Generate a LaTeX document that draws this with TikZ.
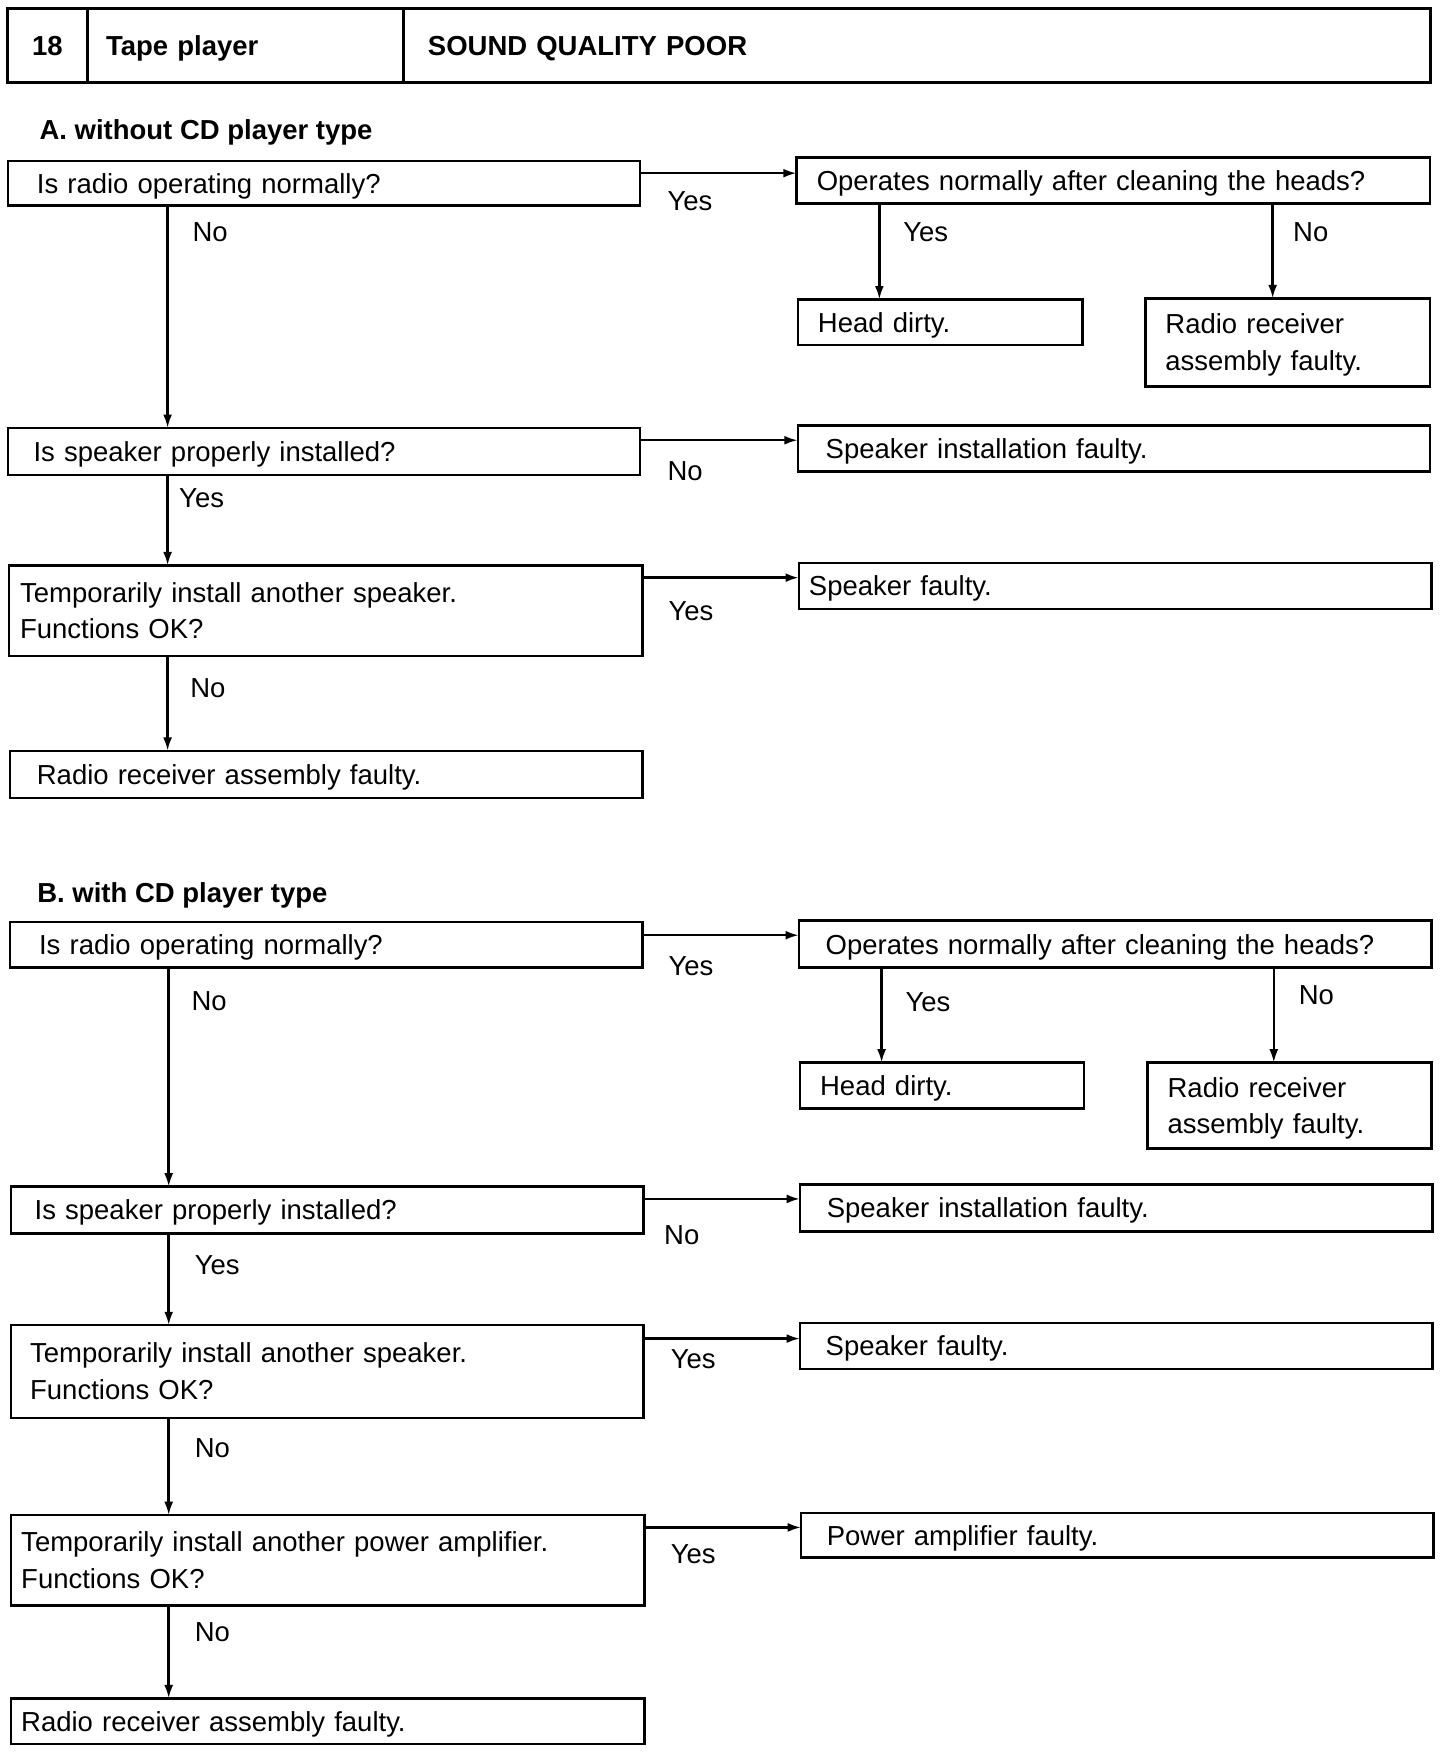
\documentclass[tikz,border=0pt]{standalone}
\usepackage{fontspec}
\setmainfont{Liberation Sans}
\usetikzlibrary{arrows.meta}
\begin{document}
\begin{tikzpicture}[x=0.5pt,y=-0.5pt,
 every node/.style={font=\fontsize{12.3}{16.5}\selectfont},
 bx/.style n args={4}{draw, line width=1.1pt, anchor=north west, align=left, inner ysep=0pt, outer sep=0pt,
   minimum width=#1, minimum height=#2, inner xsep=#3, text width=#4},
 one/.style={text height=8.8pt, text depth=0pt},
 two/.style={text height=8.8pt, text depth=16.5pt},
 hd/.style={draw, line width=1.3pt, anchor=north west, inner ysep=0pt, outer sep=0pt, minimum height=33pt,
   text height=8.8pt, text depth=0pt, font=\fontsize{12.3}{15}\selectfont\bfseries},
 lbl/.style={anchor=west, inner sep=0pt},
 arr/.style={line width=1.1pt, -{Latex[length=6pt,width=4pt]}},
 ttl/.style={anchor=west, inner sep=0pt, text height=8.8pt, text depth=0pt, font=\fontsize{12.3}{15}\selectfont\bfseries}]
\useasboundingbox (0,0) rectangle (1289,1568);

% header
\node[hd, minimum width=35.5pt, inner xsep=0pt, align=center] (h1) at (7,8) {18};
\node[hd, minimum width=141.5pt, inner xsep=8.5pt, text width=124.5pt, align=left] (h2) at (78,8) {Tape player};
\node[hd, minimum width=459.5pt, inner xsep=11pt, text width=437.5pt, align=left] (h3) at (361,8) {SOUND QUALITY POOR};

% ---------------- Section A
\node[ttl] (ta) at (35,116) {A. without CD player type};

\node[bx={283pt}{20pt}{13pt}{257pt}, one] (a1) at (7,144) {Is radio operating normally?};
\node[bx={283.5pt}{20.5pt}{9pt}{265.5pt}, one] (a2) at (713,141) {Operates normally after cleaning the heads?};
\node[bx={127.5pt}{20.5pt}{9pt}{109.5pt}, one] (a3) at (714,268) {Head dirty.};
\node[bx={127.5pt}{39.5pt}{9pt}{109.5pt}, two] (a4) at (1025,267) {Radio receiver\\assembly faulty.};
\node[bx={283pt}{21pt}{11.5pt}{260pt}, one] (a5) at (7,383) {Is speaker properly installed?};
\node[bx={283pt}{20.5pt}{12.5pt}{258pt}, one] (a6) at (714,381) {Speaker installation faulty.};
\node[bx={283.5pt}{40.5pt}{5pt}{273.5pt}, two] (a7) at (8,506) {Temporarily install another speaker.\\Functions OK?};
\node[bx={283pt}{20.5pt}{4.5pt}{274pt}, one] (a8) at (715,504) {Speaker faulty.};
\node[bx={283pt}{21pt}{12pt}{259pt}, one] (a9) at (9,672) {Radio receiver assembly faulty.};

\coordinate (xa) at (150,0);
\coordinate (xa2) at (787,0);
\coordinate (xa4) at (1139,0);
\coordinate (ya12) at (0,155);
\coordinate (ya56) at (0,394);
\coordinate (ya78) at (0,517);

\draw[arr] (a1.east |- ya12) -- (a2.west |- ya12);
\draw[arr] (a1.south -| xa) -- (a5.north -| xa);
\draw[arr] (a2.south -| xa2) -- (a3.north -| xa2);
\draw[arr] (a2.south -| xa4) -- (a4.north -| xa4);
\draw[arr] (a5.east |- ya56) -- (a6.west |- ya56);
\draw[arr] (a5.south -| xa) -- (a7.north -| xa);
\draw[arr] (a7.east |- ya78) -- (a8.west |- ya78);
\draw[arr] (a7.south -| xa) -- (a9.north -| xa);

\node[lbl] (la1) at (597,180) {Yes};
\node[lbl] (la2) at (172,208) {No};
\node[lbl] (la3) at (808,208) {Yes};
\node[lbl] (la4) at (1157,208) {No};
\node[lbl] (la5) at (597,422) {No};
\node[lbl] (la6) at (160,446) {Yes};
\node[lbl] (la7) at (598,547) {Yes};
\node[lbl] (la8) at (170,616) {No};

% ---------------- Section B
\node[ttl] (tb) at (33,799) {B. with CD player type};

\node[bx={283pt}{20.5pt}{13pt}{257pt}, one] (b1) at (9,825) {Is radio operating normally?};
\node[bx={283pt}{21pt}{12pt}{259pt}, one] (b2) at (715,824) {Operates normally after cleaning the heads?};
\node[bx={127pt}{20.5pt}{9pt}{109pt}, one] (b3) at (716,951) {Head dirty.};
\node[bx={127pt}{38.5pt}{9pt}{109pt}, two] (b4) at (1027,951) {Radio receiver\\assembly faulty.};
\node[bx={283pt}{21pt}{10.5pt}{262pt}, one] (b5) at (10,1062) {Is speaker properly installed?};
\node[bx={283pt}{21pt}{12pt}{259pt}, one] (b6) at (716,1060) {Speaker installation faulty.};
\node[bx={283pt}{41.5pt}{8.5pt}{266pt}, two] (b7) at (10,1186) {Temporarily install another speaker.\\Functions OK?};
\node[bx={283pt}{20.5pt}{11.5pt}{260pt}, one] (b8) at (716,1184) {Speaker faulty.};
\node[bx={283.5pt}{40.5pt}{4.5pt}{274.5pt}, two] (b9) at (10,1356) {Temporarily install another power amplifier.\\Functions OK?};
\node[bx={283pt}{20pt}{11.5pt}{260pt}, one] (b10) at (717,1354) {Power amplifier faulty.};
\node[bx={283.5pt}{20.5pt}{4.5pt}{274.5pt}, one] (b11) at (10,1520) {Radio receiver assembly faulty.};

\coordinate (xb) at (151,0);
\coordinate (xb2) at (789,0);
\coordinate (xb4) at (1140,0);
\coordinate (yb12) at (0,837);
\coordinate (yb56) at (0,1073);
\coordinate (yb78) at (0,1198);
\coordinate (yb910) at (0,1367);

\draw[arr] (b1.east |- yb12) -- (b2.west |- yb12);
\draw[arr] (b1.south -| xb) -- (b5.north -| xb);
\draw[arr] (b2.south -| xb2) -- (b3.north -| xb2);
\draw[arr] (b2.south -| xb4) -- (b4.north -| xb4);
\draw[arr] (b5.east |- yb56) -- (b6.west |- yb56);
\draw[arr] (b5.south -| xb) -- (b7.north -| xb);
\draw[arr] (b7.east |- yb78) -- (b8.west |- yb78);
\draw[arr] (b7.south -| xb) -- (b9.north -| xb);
\draw[arr] (b9.east |- yb910) -- (b10.west |- yb910);
\draw[arr] (b9.south -| xb) -- (b11.north -| xb);

\node[lbl] (lb1) at (598,865) {Yes};
\node[lbl] (lb2) at (171,896) {No};
\node[lbl] (lb3) at (810,897) {Yes};
\node[lbl] (lb4) at (1162,891) {No};
\node[lbl] (lb5) at (594,1105) {No};
\node[lbl] (lb6) at (174,1132) {Yes};
\node[lbl] (lb7) at (600,1216) {Yes};
\node[lbl] (lb8) at (174,1296) {No};
\node[lbl] (lb9) at (600,1391) {Yes};
\node[lbl] (lb10) at (174,1461) {No};
\end{tikzpicture}
\end{document}
